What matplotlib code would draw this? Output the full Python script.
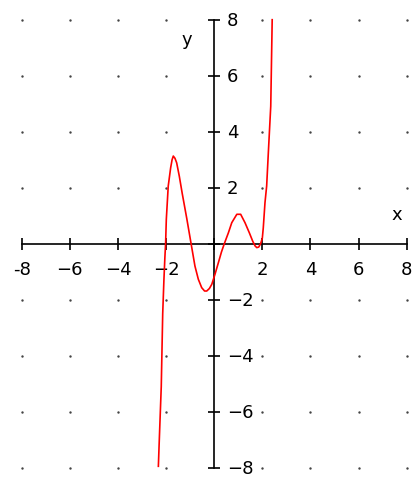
import matplotlib
matplotlib.use("Agg")
import matplotlib.pyplot as plt
import numpy as np

# ---- data ----
curve_x = [-2.32, -2.29, -2.20, -2.14, -2.09, -2.05, -2.02, -1.99, -1.91, -1.81,
           -1.75, -1.70, -1.63, -1.56, -1.45, -1.33, -1.14, -0.96, -0.80, -0.66,
           -0.52, -0.40, -0.31, -0.20, -0.10, 0.03, 0.20, 0.30, 0.42, 0.59,
           0.73, 0.94, 1.10, 1.28, 1.46, 1.60, 1.70, 1.77, 1.85, 1.93,
           2.00, 2.04, 2.11, 2.18, 2.25, 2.35, 2.41]
curve_y = [-7.95, -7.2, -5.1, -2.5, -1.3, -0.5, 0.0, 0.87, 2.06, 2.71,
           3.0, 3.13, 3.05, 2.89, 2.41, 1.8, 0.9, 0.0, -0.8, -1.27,
           -1.57, -1.69, -1.69, -1.6, -1.45, -1.1, -0.6, -0.3, 0.0, 0.39,
           0.75, 1.05, 1.05, 0.75, 0.39, 0.09, -0.08, -0.14, -0.12, 0.0,
           0.2, 0.57, 1.46, 2.06, 3.25, 4.91, 8.0]
ticks = [-8, -6, -4, -2, 0, 2, 4, 6, 8]
x_tick_labels = ["-8", "\u22126", "\u22124", "\u22122", "", "2", "4", "6", "8"]
y_tick_labels = ["\u22128", "\u22126", "\u22124", "\u22122", "", "2", "4", "6", "8"]

W, H = 412, 481
fig = plt.figure(figsize=(W / 100, H / 100), dpi=100)
left, right = 21.7 / W, 406.7 / W
top, bottom = 1 - 20.7 / H, 1 - 468.7 / H
ax = fig.add_axes([left, bottom, right - left, top - bottom])
ax.set_xlim(-8, 8)
ax.set_ylim(-8, 8)
ax.patch.set_alpha(0)

for s in ["top", "left"]:
    ax.spines[s].set_visible(False)
ax.spines["bottom"].set_position(("data", 0))
ax.spines["right"].set_position(("data", 0))
for s in ["bottom", "right"]:
    ax.spines[s].set_linewidth(1.2)
    ax.spines[s].set_color("black")
    ax.spines[s].set_zorder(1)

ax.xaxis.set_ticks_position("bottom")
ax.yaxis.set_ticks_position("right")
ax.set_xticks(ticks)
ax.set_xticklabels(x_tick_labels)
ax.set_yticks(ticks)
ax.set_yticklabels(y_tick_labels)
ax.tick_params(axis="both", direction="inout", length=8, width=1.2,
               labelsize=13, color="black")
ax.tick_params(axis="x", pad=8)
ax.tick_params(axis="y", pad=5)
for lbl in ax.get_yticklabels():
    lbl.set_verticalalignment("center")

# grid dots
gx, gy = np.meshgrid(ticks, ticks)
mask = (gx != 0) & (gy != 0)
ax.scatter(gx[mask], gy[mask], s=3, color="#444444", zorder=0, clip_on=False,
           linewidths=0)

ax.plot(curve_x, curve_y, color="red", lw=1.2, zorder=3, clip_on=False)

ax.text(7.6, 1.05, "x", fontsize=13, ha="center", va="center")
ax.text(-1.15, 7.3, "y", fontsize=13, ha="center", va="center")

fig.savefig("out.png", dpi=100)
